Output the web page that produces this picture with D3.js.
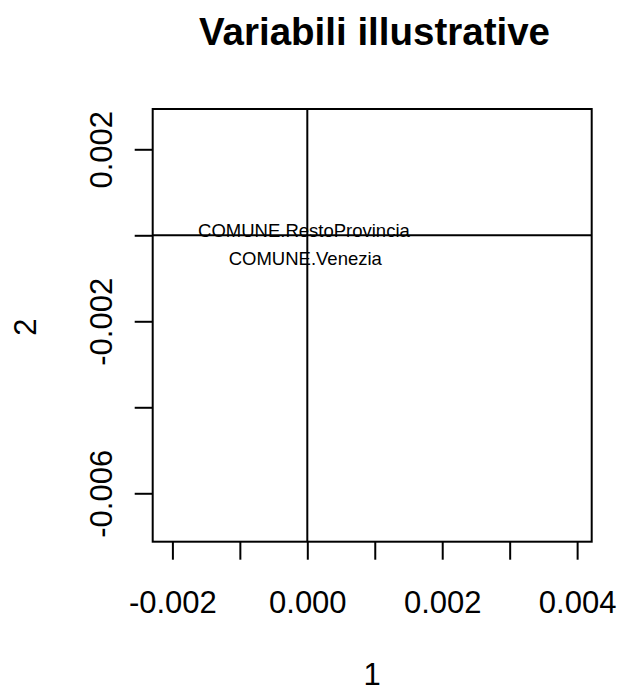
<!DOCTYPE html>
<html>
<head>
<meta charset="utf-8">
<script src="https://cdn.jsdelivr.net/npm/d3@7"></script>
<style>
  html, body { margin: 0; padding: 0; background: #fff; }
  svg { display: block; font-family: "Liberation Sans", Arial, sans-serif; }
</style>
</head>
<body>
<svg id="chart" width="621" height="693"></svg>
<script>
// Data
const labels = ["COMUNE.RestoProvincia", "COMUNE.Venezia"];
const dim1 = [-0.00005, -0.00003];
const dim2 = [0.00010, -0.00053];
const xTicks = [-0.002, -0.001, 0, 0.001, 0.002, 0.003, 0.004];
const xTickLabels = ["-0.002", "", "0.000", "", "0.002", "", "0.004"];
const yTicks = [0.002, 0, -0.002, -0.004, -0.006];
const yTickLabels = ["0.002", "", "-0.002", "", "-0.006"];
const title = "Variabili illustrative";
const xTitle = "1";
const yTitle = "2";

const svg = d3.select("#chart");
const L = 152.7, R = 591.7, T = 109, B = 541.7;

const x = d3.scaleLinear().domain([-0.002292, 0.004216]).range([L, R]);
const y = d3.scaleLinear().domain([-0.007126, 0.002937]).range([B, T]);

// Zero lines
svg.append("line").attr("x1", L).attr("x2", R).attr("y1", y(0)).attr("y2", y(0))
  .attr("stroke", "#000").attr("stroke-width", 2);
svg.append("line").attr("x1", x(0)).attr("x2", x(0)).attr("y1", T).attr("y2", B)
  .attr("stroke", "#000").attr("stroke-width", 2);

// Box
svg.append("rect").attr("x", L).attr("y", T).attr("width", R - L).attr("height", B - T)
  .attr("fill", "none").attr("stroke", "#000").attr("stroke-width", 2);

// X axis
const gx = svg.append("g").attr("transform", `translate(0,${B})`)
  .call(d3.axisBottom(x).tickValues(xTicks).tickSize(18).tickSizeOuter(0)
    .tickFormat((d, i) => xTickLabels[i]));
gx.select(".domain").remove();
gx.selectAll(".tick line").attr("stroke", "#000").attr("stroke-width", 2);
gx.selectAll(".tick text").attr("y", 71.3).attr("dy", 0)
  .attr("font-size", 31).attr("fill", "#000")
  .attr("font-family", "'Liberation Sans', Arial, sans-serif");

// Y axis
const gy = svg.append("g").attr("transform", `translate(${L},0)`)
  .call(d3.axisLeft(y).tickValues(yTicks).tickSize(18).tickSizeOuter(0)
    .tickFormat((d, i) => yTickLabels[i]));
gy.select(".domain").remove();
gy.selectAll(".tick line").attr("stroke", "#000").attr("stroke-width", 2);
gy.selectAll(".tick text")
  .attr("x", 0).attr("dy", 0).attr("y", 0)
  .attr("transform", "translate(-41,0) rotate(-90)")
  .attr("text-anchor", "middle")
  .attr("font-size", 31).attr("fill", "#000")
  .attr("font-family", "'Liberation Sans', Arial, sans-serif");

// Point labels
svg.selectAll("text.pt").data(labels).enter().append("text")
  .attr("class", "pt")
  .attr("x", (d, i) => x(dim1[i]))
  .attr("y", (d, i) => y(dim2[i]))
  .attr("dy", "0.35em")
  .attr("text-anchor", "middle")
  .attr("font-size", 18.5)
  .attr("fill", "#000")
  .text(d => d);

// Title
svg.append("text").attr("x", 374.5).attr("y", 45).attr("text-anchor", "middle")
  .attr("font-size", 38.5).attr("font-weight", "bold").attr("fill", "#000").text(title);

// Axis titles
svg.append("text").attr("x", 372).attr("y", 685).attr("text-anchor", "middle")
  .attr("font-size", 31).attr("fill", "#000").text(xTitle);
svg.append("text").attr("transform", "translate(36,327) rotate(-90)")
  .attr("text-anchor", "middle").attr("font-size", 31).attr("fill", "#000").text(yTitle);
</script>
</body>
</html>
